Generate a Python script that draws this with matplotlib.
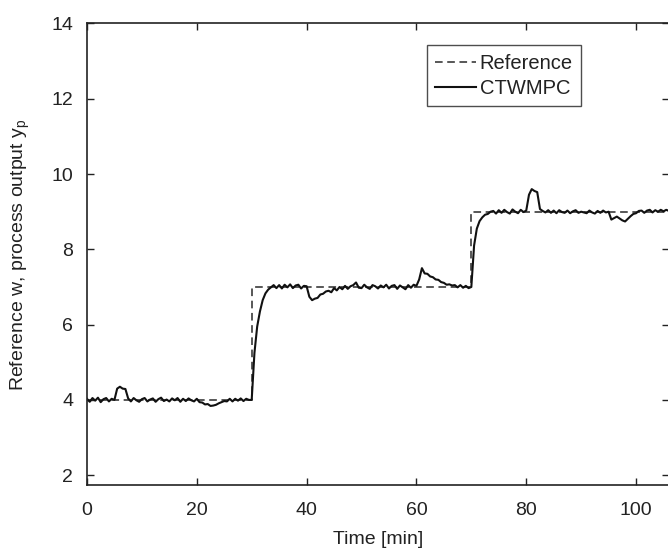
import matplotlib
matplotlib.use('Agg')
import matplotlib.pyplot as plt

# reference trajectory w (set-point steps)
ref_time = [0, 30, 30, 70, 70, 106]
ref_value = [4, 4, 7, 7, 9, 9]

ctw_time = [i * 0.5 for i in range(213)]
ctw_value = [
    4.03, 3.95, 4.05, 3.98, 4.06, 3.94, 4.02, 4.05, 3.96, 4.03,   # 0 - 4.5
    4.00, 4.30, 4.35, 4.30, 4.29, 4.04, 3.96, 4.05, 3.99, 3.95,   # 5 - 9.5
    4.02, 4.05, 3.96, 4.01, 4.04, 3.95, 4.02, 4.06, 3.97, 4.01,   # 10 - 14.5
    3.96, 4.04, 3.99, 4.05, 3.95, 4.03, 3.97, 4.04, 3.99, 3.96,   # 15 - 19.5
    4.03, 3.94, 3.93, 3.88, 3.89, 3.84, 3.85, 3.87, 3.91, 3.94,   # 20 - 24.5
    3.97, 3.96, 4.03, 3.96, 4.03, 3.98, 4.04, 3.97, 4.03, 4.00,   # 25 - 29.5
    4.00, 5.25, 5.95, 6.35, 6.65, 6.83, 6.93, 6.99, 7.05, 6.97,   # 30 - 34.5
    7.05, 6.96, 7.06, 6.99, 7.07, 6.97, 7.04, 7.06, 6.96, 7.03,   # 35 - 39.5
    7.02, 6.74, 6.65, 6.69, 6.71, 6.80, 6.82, 6.88, 6.90, 6.86,   # 40 - 44.5
    6.97, 6.91, 7.00, 6.94, 7.03, 6.95, 7.02, 7.05, 7.12, 6.98,   # 45 - 49.5
    6.97, 7.06, 6.99, 6.95, 7.05, 7.02, 6.96, 7.04, 6.99, 7.06,   # 50 - 54.5
    6.96, 7.03, 7.05, 6.95, 7.04, 6.99, 6.94, 7.05, 6.98, 7.06,   # 55 - 59.5
    7.03, 7.20, 7.50, 7.36, 7.35, 7.28, 7.26, 7.20, 7.19, 7.13,   # 60 - 64.5
    7.11, 7.06, 7.07, 7.04, 7.05, 6.99, 7.05, 6.98, 7.03, 6.97,   # 65 - 69.5
    7.00, 8.10, 8.55, 8.75, 8.85, 8.92, 8.94, 9.00, 9.02, 8.95,   # 70 - 74.5
    9.04, 8.97, 9.05, 8.99, 8.95, 9.06, 9.00, 8.96, 9.05, 8.99,   # 75 - 79.5
    9.03, 9.45, 9.60, 9.55, 9.52, 9.07, 9.02, 8.98, 9.04, 8.97,   # 80 - 84.5
    9.03, 8.96, 9.04, 8.99, 8.97, 9.03, 8.96, 9.01, 9.04, 8.97,   # 85 - 89.5
    9.00, 8.98, 8.96, 9.03, 8.98, 8.95, 9.02, 8.97, 9.03, 8.98,   # 90 - 94.5
    9.00, 8.79, 8.83, 8.87, 8.82, 8.77, 8.74, 8.81, 8.88, 8.94,   # 95 - 99.5
    8.96, 9.02, 9.03, 8.97, 9.03, 9.05, 8.98, 9.04, 9.00, 9.05,   # 100 - 104.5
    9.01, 9.05, 9.02,                                             # 105 - 106
]

x_ticks = [0, 20, 40, 60, 80, 100]
y_ticks = [2, 4, 6, 8, 10, 12, 14]

plt.rcParams['font.family'] = ['Liberation Sans', 'DejaVu Sans']
plt.rcParams['mathtext.fontset'] = 'custom'
plt.rcParams['mathtext.rm'] = 'Liberation Sans'
plt.rcParams['mathtext.it'] = 'Liberation Sans'

fig = plt.figure(figsize=(6.68, 5.5), dpi=100)
ax = fig.add_axes([0.1302, 0.1182, 0.8713, 0.8391])

ax.plot(ref_time, ref_value, color='#2a2a2a', linewidth=1.1, dashes=(5, 3), label='Reference')
ax.plot(ctw_time, ctw_value, color='#111111', linewidth=1.5, label='CTWMPC')

ax.set_xlim(0, 106)
ax.set_ylim(1.74, 14)
ax.set_xticks(x_ticks)
ax.set_yticks(y_ticks)
ax.tick_params(direction='in', length=5, width=1, top=True, right=True,
               labelsize=14, colors='#222222')
ax.tick_params(axis='x', pad=12)
ax.tick_params(axis='y', pad=10)
for s in ax.spines.values():
    s.set_linewidth(1.2)
    s.set_color('#222222')

ax.set_xlabel('Time [min]', fontsize=14, color='#222222', labelpad=9)
ax.set_ylabel('Reference w, process output y$_\\mathrm{p}$', fontsize=14, color='#222222', labelpad=14)

leg = ax.legend(loc='upper left', bbox_to_anchor=(0.584, 0.953), borderaxespad=0,
                fontsize=14.5, frameon=True, fancybox=False, handlelength=2.0,
                handletextpad=0.2, labelspacing=0.3, borderpad=0.42)
leg.get_frame().set_edgecolor('#222222')
leg.get_frame().set_linewidth(1.0)
for t in leg.get_texts():
    t.set_color('#222222')

plt.savefig('out.png', dpi=100)
